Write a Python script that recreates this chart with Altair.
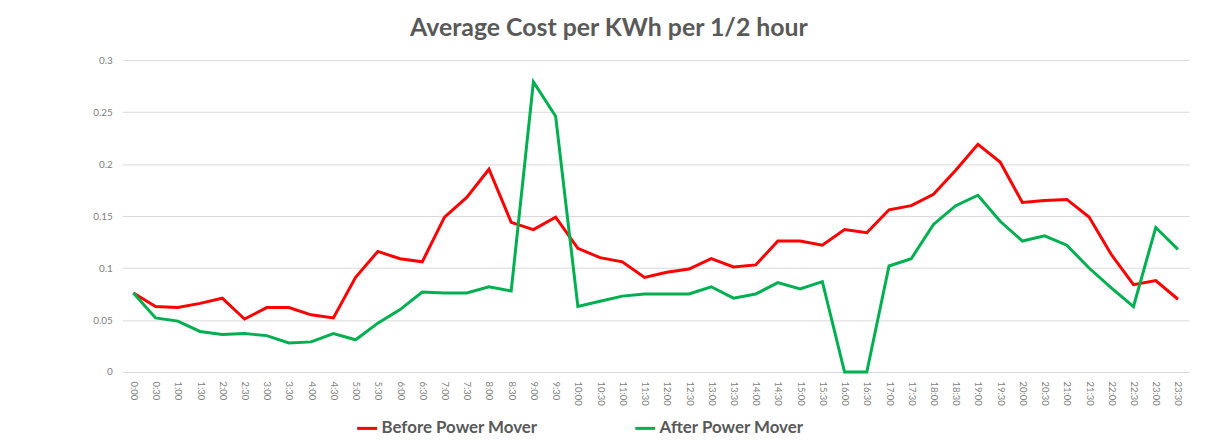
import altair as alt
import pandas as pd

times = [f"{h}:{m:02d}" for h in range(24) for m in (0, 30)]

before = [0.076, 0.063, 0.062, 0.066, 0.071, 0.051, 0.062, 0.062, 0.055, 0.052,
          0.091, 0.116, 0.109, 0.106, 0.149, 0.168, 0.195, 0.144, 0.137, 0.149,
          0.119, 0.110, 0.106, 0.091, 0.096, 0.099, 0.109, 0.101, 0.103, 0.126,
          0.126, 0.122, 0.137, 0.134, 0.156, 0.160, 0.171, 0.194, 0.219, 0.202,
          0.163, 0.165, 0.166, 0.149, 0.113, 0.084, 0.088, 0.070]

after = [0.076, 0.052, 0.049, 0.039, 0.036, 0.037, 0.035, 0.028, 0.029, 0.037,
         0.031, 0.047, 0.060, 0.077, 0.076, 0.076, 0.082, 0.078, 0.279, 0.246,
         0.063, 0.068, 0.073, 0.075, 0.075, 0.075, 0.082, 0.071, 0.075, 0.086,
         0.080, 0.087, 0.0, 0.0, 0.102, 0.109, 0.142, 0.160, 0.170, 0.145,
         0.126, 0.131, 0.122, 0.100, 0.081, 0.063, 0.139, 0.118]

series_names = ["Before Power Mover", "After Power Mover"]
series_colors = ["#FF0000", "#00B050"]

rows = []
for i, t in enumerate(times):
    rows.append({"time": t, "order": i, "series": series_names[0], "value": before[i]})
    rows.append({"time": t, "order": i, "series": series_names[1], "value": after[i]})
df = pd.DataFrame(rows)

chart = alt.Chart(df).mark_line(strokeWidth=3).encode(
    x=alt.X("time:N", sort=times, title=None,
            axis=alt.Axis(labelAngle=90, labelFontSize=9.5, labelColor="#7f7f7f",
                          labelFont="Lato", ticks=False, domain=False, grid=False,
                          labelPadding=9, labelBaseline="middle", labelAlign="left")),
    y=alt.Y("value:Q", title=None,
            scale=alt.Scale(domain=[0, 0.3], nice=False),
            axis=alt.Axis(values=[0, 0.05, 0.1, 0.15, 0.2, 0.25, 0.3], format="~g",
                          labelFontSize=10, labelColor="#7f7f7f", labelFont="Lato",
                          ticks=False, domain=False, gridColor="#d9d9d9",
                          labelPadding=10)),
    color=alt.Color("series:N", title=None,
                    scale=alt.Scale(domain=series_names, range=series_colors),
                    legend=alt.Legend(orient="none", direction="horizontal",
                                      legendX=235, legendY=359,
                                      symbolType="stroke", symbolSize=400,
                                      symbolStrokeWidth=3, labelFontSize=17,
                                      labelFont="Lato", labelFontWeight="bold",
                                      labelColor="#595959", labelOffset=3,
                                      columnPadding=91, labelLimit=400)),
    detail="series:N",
).properties(
    width=1074,
    height=314,
    title=alt.TitleParams("Average Cost per KWh per 1/2 hour", fontSize=25,
                          font="Lato", fontWeight="bold", color="#595959",
                          anchor="middle", offset=14, dx=-47),
    autosize=alt.AutoSizeParams(type="none"),
    padding={"left": 115, "top": 51, "right": 10, "bottom": 70},
).configure_view(stroke=None)

chart.save("out.html", embed_options={"renderer": "svg", "actions": False})
